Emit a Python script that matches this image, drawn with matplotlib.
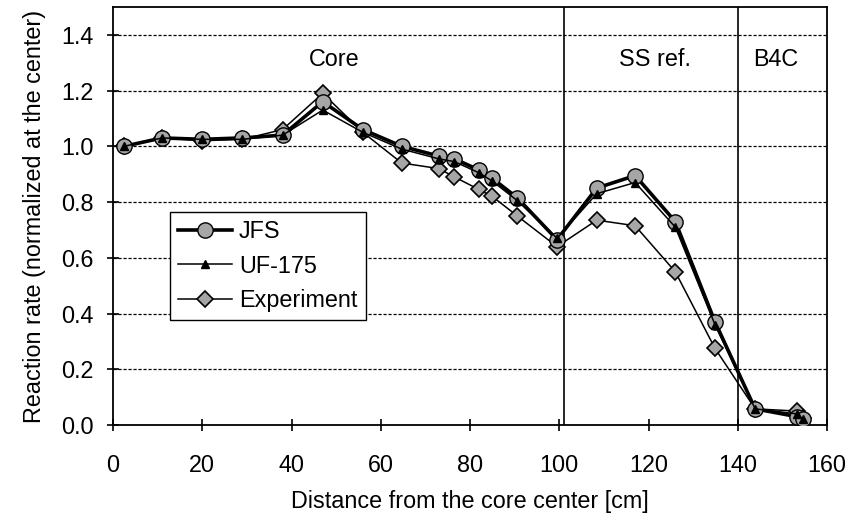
import matplotlib

matplotlib.use("Agg")
import matplotlib.pyplot as plt

# distance from core center [cm]
DIST = [2.5, 11, 20, 29, 38, 47, 56, 64.7, 73, 76.5, 82, 85, 90.6, 99.5,
        108.4, 117, 126, 134.9, 143.9, 153.3, 154.6]
# reaction rates normalized at the center
JFS = [1.00, 1.03, 1.025, 1.03, 1.04, 1.16, 1.06, 1.00, 0.965, 0.955, 0.915, 0.885, 0.815, 0.665,
       0.85, 0.895, 0.73, 0.37, 0.058, 0.03, 0.02]
UF175 = [1.00, 1.03, 1.025, 1.025, 1.04, 1.13, 1.05, 0.99, 0.955, 0.945, 0.905, 0.875, 0.805, 0.67,
         0.83, 0.87, 0.71, 0.36, 0.058, 0.04, 0.02]
EXP = [1.00, 1.03, 1.02, 1.025, 1.06, 1.19, 1.05, 0.94, 0.92, 0.89, 0.845, 0.82, 0.75, 0.64,
       0.735, 0.715, 0.55, 0.275, 0.058, 0.05, 0.025]

BOUNDS = [101, 140]
REGIONS = [("Core", 49.5), ("SS ref.", 121.5), ("B4C", 148.5)]

FILL = "#a6a6a6"
plt.rcParams.update({"font.family": "Liberation Sans", "font.size": 16.8})

fig = plt.figure(figsize=(8.51, 5.13), dpi=100)
ax = fig.add_axes([0.1328, 0.1715, 0.839, 0.815])

ax.plot(DIST, JFS, color="black", lw=2.6, marker="o", ms=11, mfc=FILL, mec="black",
        mew=1.0, label="JFS", zorder=4)
ax.plot(DIST, UF175, color="black", lw=1.1, marker="^", ms=6, mfc="black", mec="black",
        label="UF-175", zorder=5)
ax.plot(DIST, EXP, color="black", lw=1.1, marker="D", ms=8.5, mfc=FILL, mec="black",
        mew=1.2, label="Experiment", zorder=3)

for b in BOUNDS:
    ax.axvline(b, color="black", lw=1.2, zorder=2)
for name, xc in REGIONS:
    ax.text(xc, 1.31, name, ha="center", va="center")

ax.set_xlim(0, 160)
ax.set_ylim(0, 1.5)
ax.set_xticks(range(0, 161, 20))
ax.set_yticks([0.0, 0.2, 0.4, 0.6, 0.8, 1.0, 1.2, 1.4])
ax.yaxis.set_major_formatter(matplotlib.ticker.FormatStrFormatter("%.1f"))
ax.tick_params(direction="inout", length=8, width=1.2)
ax.tick_params(axis="x", pad=17)
ax.tick_params(axis="y", pad=10)
for y in [0.2, 0.4, 0.6, 0.8, 1.0, 1.2, 1.4]:
    ax.axhline(y, color="black", lw=0.9, ls=(0, (2.5, 1.5)), zorder=1)
for s in ax.spines.values():
    s.set_linewidth(1.3)

ax.set_xlabel("Distance from the core center [cm]", labelpad=9)
ax.set_ylabel("Reaction rate (normalized at the center)", labelpad=11)

leg = ax.legend(loc="upper left", bbox_to_anchor=(0.08, 0.51), fancybox=False,
                framealpha=1, edgecolor="black", handlelength=2.3, borderpad=0.35,
                labelspacing=0.5, handletextpad=0.3, borderaxespad=0)
leg.get_frame().set_linewidth(1.0)

fig.savefig("out.png", dpi=100)
